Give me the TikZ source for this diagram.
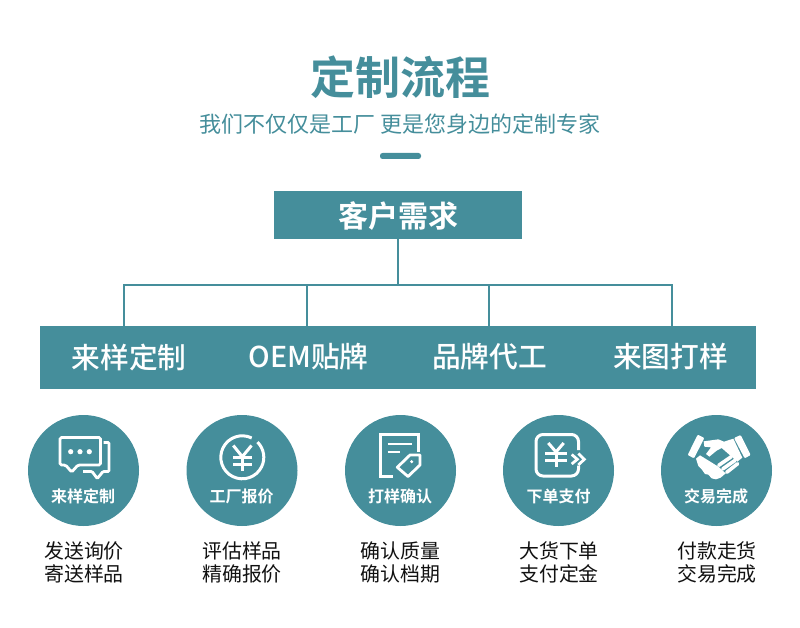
\documentclass[tikz,border=0pt]{standalone}
\usepackage{fontspec}
\setmainfont{Noto Sans CJK SC}
\newfontfamily\cjkb{Noto Sans CJK SC Bold}
\newfontfamily\cjkm{Noto Sans CJK SC Medium}
\definecolor{teal1}{HTML}{458E9B}
\definecolor{txt}{HTML}{111111}
\tikzset{
 box/.style={fill=teal1,inner sep=0pt},
 disc/.style={circle,fill=teal1,minimum size=111pt,inner sep=0pt},
 wire/.style={draw=teal1,line width=2pt},
 ico/.style={draw=white,line width=2.8pt,line join=miter},
 yen/.style={draw=white,line width=3pt},
 barlabel/.style={text=white,font=\cjkm\fontsize{28.7}{28.7}\selectfont,inner sep=0pt,anchor=center},
 disclabel/.style={text=white,font=\cjkb\fontsize{16}{16}\selectfont,inner sep=0pt},
 caption/.style={text=txt,font=\fontsize{19.9}{23}\selectfont,align=center,inner sep=0pt},
}
\begin{document}
\begin{tikzpicture}[x=1pt,y=-1pt]
\useasboundingbox (0,0) rectangle (800,628);
\node[text=teal1,font=\cjkb\fontsize{45}{45}\selectfont,inner sep=0pt] (title) at (400,77) {定制流程};
\node[text=teal1,font=\fontsize{22}{22}\selectfont,inner sep=0pt] (sub) at (400,124) {我们不仅仅是工厂 更是您身边的定制专家};
\fill[teal1,rounded corners=2.5pt] (380,153) rectangle (421,159);
\node[box,minimum width=248pt,minimum height=48pt] (need) at (398,215) {};
\node[text=white,font=\cjkb\fontsize{30}{30}\selectfont,inner sep=0pt] (needt) at (398,216) {客户需求};
\node[box,minimum width=716pt,minimum height=63pt] (bar) at (398,357.5) {};
\coordinate (j) at (398,285);
\coordinate (a1) at (124,285); \coordinate (a2) at (307,285); \coordinate (a3) at (489,285); \coordinate (a4) at (672,285);
\draw[wire] (need.south) -- (j);
\draw[wire,line cap=rect] (a1) -- (a4);
\draw[wire] (a1) -- (a1 |- bar.north);
\draw[wire] (a2) -- (a2 |- bar.north);
\draw[wire] (a3) -- (a3 |- bar.north);
\draw[wire] (a4) -- (a4 |- bar.north);
\node[barlabel] (b1) at (129,357) {来样定制};
\node[barlabel] (b2) at (308.5,357) {OEM贴牌};
\node[barlabel] (b3) at (489.5,357) {品牌代工};
\node[barlabel] (b4) at (670.5,357) {来图打样};
\node[disc] (c1) at (83.5,470.5) {};
\node[disc] (c2) at (242,470.5) {};
\node[disc] (c3) at (400.5,470.5) {};
\node[disc] (c4) at (558.5,470.5) {};
\node[disc] (c5) at (716.5,470.5) {};
\node[disclabel] at (83,496.5) {来样定制};
\node[disclabel] at (241.5,496.5) {工厂报价};
\node[disclabel] at (400,496.5) {打样确认};
\node[disclabel] at (558.5,496.5) {下单支付};
\node[disclabel] at (716,496.5) {交易完成};
\node[caption] at (84,562.5) {发送询价\\寄送样品};
\node[caption] at (242,562.5) {评估样品\\精确报价};
\node[caption] at (400.5,562.5) {确认质量\\确认档期};
\node[caption] at (559,562.5) {大货下单\\支付定金};
\node[caption] at (717,562.5) {付款走货\\交易完成};
% icon 1: speech bubbles
\draw[ico,rounded corners=1.5pt] (60,437.5) -- (100.5,437.5) -- (100.5,465) -- (78,465) -- (71.7,472) -- (65.5,465) -- (60,465) -- cycle;
\draw[ico,rounded corners=1pt] (103.5,442.5) -- (109,442.5) -- (109,471.5) -- (103,471.5) -- (97.3,478.5) -- (92,471.5) -- (83,471.5);
\foreach \x in {70.7,80,89.3}\fill[white] (\x,451.7) circle (2.6pt);
% icon 2: yen coin
\draw[yen] ({242.3+21.5*cos(64)},{457.3-21.5*sin(64)}) arc[start angle=64,end angle=405,radius=21.5pt];
\draw[yen] (233.3,445.5) -- (242.3,456.7) -- (251.5,445.5);
\draw[yen] (233,457.7) -- (251.7,457.7) (233,464) -- (251.7,464) (242.3,456.7) -- (242.3,470.5);
% icon 3: document with tag
\draw[ico] (418.7,452) -- (418.7,434.5) -- (380.7,434.5) -- (380.7,476.5) -- (393,476.5);
\draw[ico] (387.7,444) -- (411.7,444) (387.7,452) -- (399.5,452);
\draw[ico,line join=round] (397.3,467.3) -- (408,476.5) -- (420,465) -- (420,455) -- (410,455) -- cycle;
\fill[white] (411.7,461.7) circle (1.7pt);
% icon 4: yen card
\draw[yen,rounded corners=7pt] (578.5,450) -- (578.5,434.5) -- (536,434.5) -- (536,476) -- (578.5,476) -- (578.5,465.5);
\draw[yen] (548.3,443) -- (556,452) -- (563.7,443);
\draw[yen] (545,453.3) -- (566.7,453.3) (545,460) -- (566.7,460) (556,452) -- (556,467);
\draw[ico] (571.7,454.5) -- (577.3,459.3) -- (571.7,464) (578.3,453.5) -- (584.3,459.3) -- (578.3,465);
% icon 5: handshake
\begin{scope}[shift={(650,410)},scale=1/3]
\fill[white,rounded corners=1pt] (143,74) -- (163,84) -- (132,145) -- (113,135) -- cycle;
\fill[white,rounded corners=1pt] (252,84) -- (272,75) -- (302,135) -- (284,145) -- cycle;
\fill[white] (161,94) -- (205,88) -- (222,95) -- (250,86) -- (277,143) -- (262,155) -- (215,114) -- (200,122) -- (178,140) -- (168,132) -- (183,112) -- (163,110) -- cycle;
\fill[white] (138,146) -- (150,136) -- (205,170) -- (227,190) -- (212,203) -- (198,208) -- (185,205) -- (175,194) -- (165,192) -- (155,178) -- (145,168) -- cycle;
\draw[white,line width=3.6pt,line cap=round] (206,166) -- (244,140) (218,177) -- (255,151) (230,187) -- (263,161);
\end{scope}
\end{tikzpicture}
\end{document}
